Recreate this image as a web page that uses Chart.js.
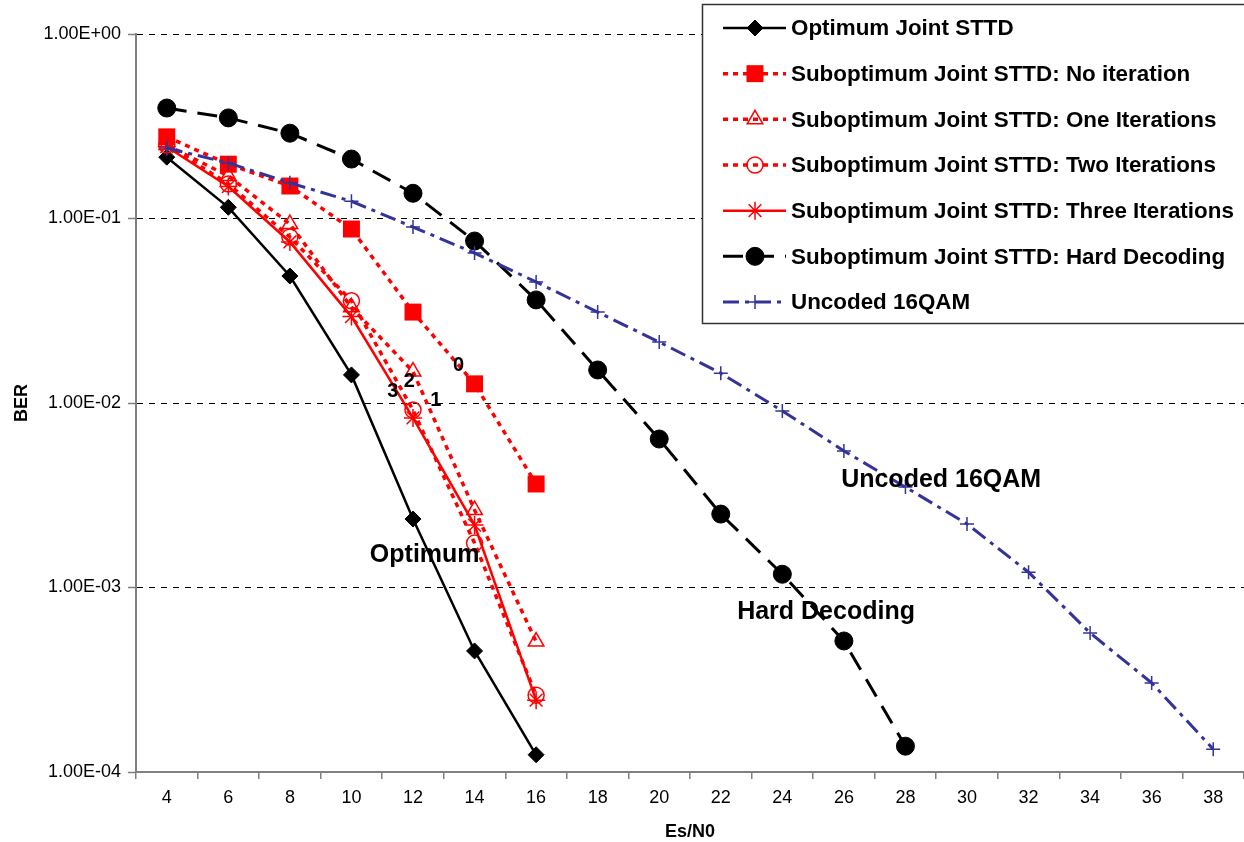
<!DOCTYPE html>
<html>
<head>
<meta charset="utf-8">
<script src="https://cdn.jsdelivr.net/npm/chart.js@4.4.1/dist/chart.umd.min.js"></script>
<style>
html,body{margin:0;padding:0;background:#ffffff;}
#wrap{width:1244px;height:842px;position:relative;}
</style>
</head>
<body>
<div id="wrap"><canvas id="c" width="1244" height="842"></canvas></div>
<script>
// ---------- DATA ----------
const categories = ['4','6','8','10','12','14','16','18','20','22','24','26','28','30','32','34','36','38'];

const optimumJoint   = [0.215, 0.115, 0.0488, 0.0142, 0.00235, 0.000453, 0.000124];
const noIteration    = [0.277, 0.197, 0.150, 0.0877, 0.0311, 0.0127, 0.00364];
const oneIteration   = [0.25, 0.17, 0.0933, 0.033, 0.0148, 0.00263, 0.000509];
const twoIterations  = [0.25, 0.154, 0.0794, 0.0358, 0.00916, 0.00174, 0.000261];
const threeIterations= [0.245, 0.149, 0.0746, 0.0294, 0.0083, 0.00218, 0.000245];
const hardDecoding   = [0.397, 0.351, 0.290, 0.210, 0.137, 0.0755, 0.0362, 0.0151, 0.00638, 0.0025, 0.00118, 0.000513, 0.000138];
const uncoded16QAM   = [0.241, 0.200, 0.156, 0.124, 0.0899, 0.065, 0.0453, 0.0311, 0.0214, 0.0145, 0.00906, 0.0055, 0.0035, 0.00221, 0.00121, 0.000567, 0.000304, 0.000133];

const seriesNames = [
  'Optimum Joint STTD',
  'Suboptimum Joint STTD: No iteration',
  'Suboptimum Joint STTD: One Iterations',
  'Suboptimum Joint STTD: Two Iterations',
  'Suboptimum Joint STTD: Three Iterations',
  'Suboptimum Joint STTD: Hard Decoding',
  'Uncoded 16QAM'
];

const yTickValues = [1e-4, 1e-3, 1e-2, 1e-1, 1];
const yTickLabels = ['1.00E-04', '1.00E-03', '1.00E-02', '1.00E-01', '1.00E+00'];

const xTitle = 'Es/N0';
const yTitle = 'BER';

// in-plot labels, anchored in data space (category index, BER)
const noteTexts = ['Optimum', 'Hard Decoding', 'Uncoded 16QAM', '0', '3', '2', '1'];
const noteX     = [4.19, 10.71, 12.58, 4.74, 3.67, 3.94, 4.37];
const noteY     = [1.5e-3, 7.36e-4, 3.83e-3, 0.0159, 0.01148, 0.01316, 0.01038];
const noteSize  = [25, 25, 25, 20, 20, 20, 20];

// ---------- STYLE ----------
const FONT = '"Liberation Sans", Arial, Helvetica, sans-serif';
const RED = '#ff0000';
const NAVY = '#333399';

const datasets = [
  { label: seriesNames[0], data: optimumJoint, borderColor:'#000', borderWidth:2.5, borderDash:[],
    pointStyle:'rectRot', pointRadius:8, pointBackgroundColor:'#000', pointBorderColor:'#000', pointBorderWidth:1 },
  { label: seriesNames[1], data: noIteration, borderColor:RED, borderWidth:3.5, borderDash:[5,5],
    pointStyle:'rect', pointRadius:12, pointBackgroundColor:RED, pointBorderColor:RED, pointBorderWidth:0 },
  { label: seriesNames[2], data: oneIteration, borderColor:RED, borderWidth:3.5, borderDash:[5,5],
    pointStyle:'triangle', pointRadius:9, pointBackgroundColor:'rgba(0,0,0,0)', pointBorderColor:RED, pointBorderWidth:1.5 },
  { label: seriesNames[3], data: twoIterations, borderColor:RED, borderWidth:3.5, borderDash:[5,5],
    pointStyle:'circle', pointRadius:8, pointBackgroundColor:'rgba(0,0,0,0)', pointBorderColor:RED, pointBorderWidth:1.5 },
  { label: seriesNames[4], data: threeIterations, borderColor:RED, borderWidth:2.5, borderDash:[],
    pointStyle:'star', pointRadius:9, pointBackgroundColor:RED, pointBorderColor:RED, pointBorderWidth:1.5 },
  { label: seriesNames[5], data: hardDecoding, borderColor:'#000', borderWidth:3, borderDash:[20,11],
    pointStyle:'circle', pointRadius:9, pointBackgroundColor:'#000', pointBorderColor:'#000', pointBorderWidth:1 },
  { label: seriesNames[6], data: uncoded16QAM, borderColor:NAVY, borderWidth:3, borderDash:[16,6,4,6],
    pointStyle:'cross', pointRadius:7, pointBackgroundColor:NAVY, pointBorderColor:NAVY, pointBorderWidth:1.5 }
];
datasets.forEach((d, i) => {
  d.fill = false; d.tension = 0; d.borderCapStyle = 'butt'; d.pointHoverRadius = d.pointRadius;
  d.order = datasets.length - i; // later series on top
});

function drawMarker(ctx, ds, x, y) {
  ctx.save();
  ctx.setLineDash([]);
  ctx.fillStyle = ds.pointBackgroundColor;
  ctx.strokeStyle = ds.pointBorderColor;
  ctx.lineWidth = ds.pointBorderWidth;
  if (Chart.helpers && Chart.helpers.drawPoint) {
    Chart.helpers.drawPoint(ctx, { pointStyle: ds.pointStyle, radius: ds.pointRadius, borderWidth: ds.pointBorderWidth, rotation: 0 }, x, y);
  }
  ctx.restore();
}

const overlayPlugin = {
  id: 'overlay',
  afterDatasetsDraw(chart) {
    const ctx = chart.ctx;
    const xs = chart.scales.x, ys = chart.scales.y, area = chart.chartArea;
    ctx.save();
    // in-plot labels
    ctx.fillStyle = '#000';
    ctx.textAlign = 'center';
    ctx.textBaseline = 'middle';
    for (let i = 0; i < noteTexts.length; i++) {
      ctx.font = 'bold ' + noteSize[i] + 'px ' + FONT;
      ctx.fillText(noteTexts[i], xs.getPixelForValue(noteX[i]), ys.getPixelForValue(noteY[i]));
    }
    // axis titles
    ctx.font = 'bold 18px ' + FONT;
    ctx.fillText(xTitle, (area.left + area.right) / 2, 832);
    ctx.save();
    ctx.translate(22, (area.top + area.bottom) / 2);
    ctx.rotate(-Math.PI / 2);
    ctx.fillText(yTitle, 0, 0);
    ctx.restore();

    // legend box
    const L = 702, T = 4, B = 323, R = 1260;
    ctx.fillStyle = '#fff';
    ctx.fillRect(L, T, R - L, B - T);
    ctx.strokeStyle = '#333';
    ctx.lineWidth = 1.5;
    ctx.strokeRect(L + 0.5, T + 0.5, R - L, B - T);
    const rowH = (302 - 28) / 6;
    ctx.font = 'bold 22.4px ' + FONT;
    ctx.textAlign = 'left';
    ctx.textBaseline = 'middle';
    datasets.forEach((ds, i) => {
      const y = 28 + i * rowH;
      ctx.save();
      ctx.strokeStyle = ds.borderColor;
      ctx.lineWidth = ds.borderWidth;
      ctx.lineCap = 'butt';
      ctx.setLineDash(ds.borderDash || []);
      ctx.beginPath();
      ctx.moveTo(723, y);
      ctx.lineTo(786, y);
      ctx.stroke();
      ctx.restore();
      drawMarker(ctx, ds, 755, y);
      ctx.fillStyle = '#000';
      ctx.fillText(ds.label, 791, y + 1);
    });
    ctx.restore();
  }
};

const chart = new Chart(document.getElementById('c'), {
  type: 'line',
  data: { labels: categories, datasets: datasets },
  plugins: [overlayPlugin],
  options: {
    responsive: false,
    animation: false,
    devicePixelRatio: 1,
    layout: { autoPadding: false, padding: { top: 34, right: 0, left: 0, bottom: 0 } },
    plugins: { legend: { display: false }, tooltip: { enabled: false }, title: { display: false } },
    elements: { line: { borderJoinStyle: 'miter' } },
    scales: {
      x: {
        type: 'category',
        offset: true,
        afterFit(scale) { scale.height = 70; },
        grid: { display: true, drawOnChartArea: false, drawTicks: true, tickLength: 7, color: '#808080', offset: true, lineWidth: 1.5 },
        border: { display: true, color: '#808080', width: 2 },
        ticks: { color: '#000', font: { family: FONT, size: 18 }, padding: 8, maxRotation: 0, autoSkip: false }
      },
      y: {
        type: 'logarithmic',
        min: 1e-4,
        max: 1,
        afterFit(scale) { scale.width = 136; },
        afterBuildTicks(scale) { scale.ticks = yTickValues.map(v => ({ value: v, major: true })); },
        grid: {
          display: true, drawOnChartArea: true, drawTicks: true, tickLength: 8,
          color: (c) => (c.tick && c.tick.value === 1e-4) ? 'rgba(0,0,0,0)' : '#000',
          lineWidth: 1, tickColor: '#808080', tickWidth: 1.5, tickBorderDash: []
        },
        border: { display: true, color: '#808080', width: 2, dash: [6, 6] },
        ticks: {
          color: '#000', font: { family: FONT, size: 18 }, padding: 7, autoSkip: false,
          callback: (v) => { const k = yTickValues.indexOf(v); return k >= 0 ? yTickLabels[k] : ''; }
        }
      }
    }
  }
});
</script>
</body>
</html>
